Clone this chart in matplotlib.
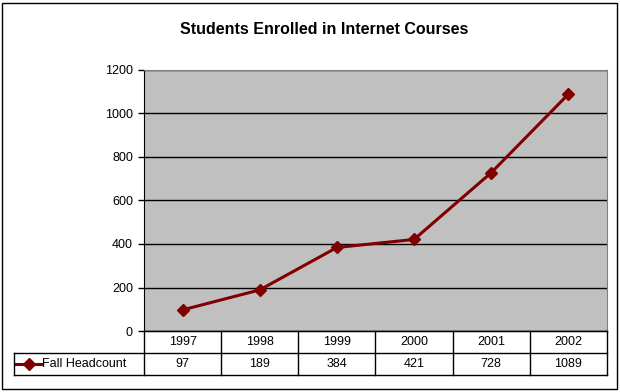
import matplotlib.pyplot as plt
from matplotlib.patches import Rectangle
from matplotlib.lines import Line2D
import matplotlib.transforms as mtransforms

years = ['1997', '1998', '1999', '2000', '2001', '2002']
headcount = [97, 189, 384, 421, 728, 1089]
series_name = 'Fall Headcount'
title = 'Students Enrolled in Internet Courses'

plt.rcParams['font.family'] = ['Liberation Sans', 'DejaVu Sans']

fig = plt.figure(figsize=(6.2, 3.92), dpi=100)
W, H = 620, 392
ax = fig.add_axes([144 / W, 1 - 331 / H, (607 - 144) / W, (331 - 70) / H])
ax.set_facecolor('#C0C0C0')

x = list(range(len(years)))
ax.plot(x, headcount, color='#800000', lw=2.2, marker='D', ms=6.5,
        mfc='#800000', mec='#800000', zorder=3)

ax.set_xlim(-0.5, len(years) - 0.5)
ax.set_ylim(0, 1200)
ax.set_yticks(range(0, 1201, 200))
ax.yaxis.grid(True, color='black', lw=1)
ax.set_axisbelow(True)
ax.tick_params(axis='y', length=4, width=1, color='black', labelsize=9, pad=4)
ax.set_xticks([])
for s in ['top', 'right']:
    ax.spines[s].set_color('#808080')
ax.spines['left'].set_color('black')
ax.spines['bottom'].set_color('black')

fig.text(0.523, 1 - 29 / H, title, ha='center', va='center',
         fontsize=11.5, fontweight='bold')

# data table below the axis
trans = mtransforms.blended_transform_factory(ax.transData, fig.transFigure)
y_top = 1 - 331 / H
y_mid = 1 - 353 / H
y_bot = 1 - 375 / H
x_left_fig = 14 / W
ftrans = fig.transFigure
n = len(years)

def hline(x0, x1, y):
    fig.add_artist(Line2D([x0, x1], [y, y], transform=ftrans, color='black', lw=1))

x_plot_left = 144 / W
x_plot_right = 607 / W
hline(x_plot_left, x_plot_right, y_top)
hline(x_left_fig, x_plot_right, y_mid)
hline(x_left_fig, x_plot_right, y_bot)
fig.add_artist(Line2D([x_left_fig, x_left_fig], [y_bot, y_mid], transform=ftrans, color='black', lw=1))
for i in range(n + 1):
    xi = i - 0.5
    fig.add_artist(Line2D([xi, xi], [y_bot, y_top], transform=trans, color='black', lw=1))
for i, (yr, v) in enumerate(zip(years, headcount)):
    fig.text(i, (y_top + y_mid) / 2, yr, transform=trans, ha='center', va='center', fontsize=9)
    fig.text(i, (y_mid + y_bot) / 2, str(v), transform=trans, ha='center', va='center', fontsize=9)

# legend key inside the table
ky = (y_mid + y_bot) / 2
fig.add_artist(Line2D([16 / W, 42 / W], [ky, ky], transform=ftrans, color='#800000', lw=2.2))
fig.add_artist(Line2D([29 / W], [ky], transform=ftrans, marker='D', ms=6.5,
                      color='#800000', lw=0))
fig.text(42 / W, ky, series_name, ha='left', va='center', fontsize=9)

# outer chart border
fig.add_artist(Rectangle((2 / W, 3 / H), 615 / W, 386 / H, transform=ftrans,
                         fill=False, ec='black', lw=1))

fig.savefig('out.png', dpi=100)
